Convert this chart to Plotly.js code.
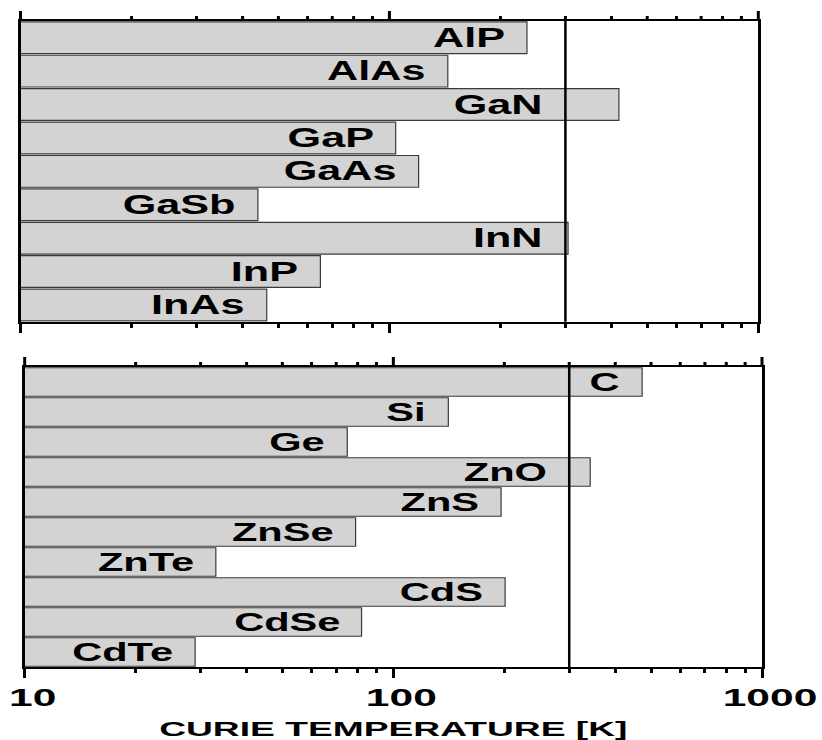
<!DOCTYPE html>
<html>
<head>
<meta charset="utf-8">
<script src="https://cdn.plot.ly/plotly-3.0.1.min.js"></script>
<style>
  html, body { margin: 0; padding: 0; background: #fff; }
  #chart { width: 822px; height: 740px; }
</style>
</head>
<body>
<div id="chart"></div>
<script>
// Predicted Curie temperatures (K) of Mn-doped semiconductor hosts
const compoundHosts = ['AlP', 'AlAs', 'GaN', 'GaP', 'GaAs', 'GaSb', 'InN', 'InP', 'InAs'];
const compoundTc = [236, 144, 419, 104, 120, 44, 305, 65, 46.5];

const elementAndIIVIHosts = ['C', 'Si', 'Ge', 'ZnO', 'ZnS', 'ZnSe', 'ZnTe', 'CdS', 'CdSe', 'CdTe'];
const elementAndIIVITc = [473, 141, 75, 342, 196, 79, 33, 201, 82, 29];

const roomTemperature = 300;
const majorTickValues = [10, 100, 1000];
const majorTickLabels = ['10', '100', '1000'];
const minorTickValues = [20, 30, 40, 50, 60, 70, 80, 90, 200, 300, 400, 500, 600, 700, 800, 900];
const axisTitleText = 'CURIE TEMPERATURE [K]';

const LOG_RANGE = [1, 3];
const FONT = 'Liberation Sans, Arial, Helvetica, sans-serif';
const BAR_FILL = '#d3d3d3';
const BAR_EDGE = '#3a3a3a';
const MAJOR_LEN = 9;
const MINOR_LEN = 4;

const FIG_W = 822, FIG_H = 740;
const MARGIN = { l: 20, r: 60, t: 21, b: 73 };
const TOP_PANEL = [0.5345, 1];
const BOTTOM_PANEL = [0, 0.4644];
const PLOT_H = FIG_H - MARGIN.t - MARGIN.b;

// position of a temperature along a panel's log axis, as a fraction of its width
function logFraction(v) {
  return (Math.log10(v) - LOG_RANGE[0]) / (LOG_RANGE[1] - LOG_RANGE[0]);
}

function barTrace(hosts, tc, xa, ya) {
  return {
    type: 'bar',
    orientation: 'h',
    y: hosts,
    x: tc,
    xaxis: xa,
    yaxis: ya,
    marker: { color: BAR_FILL, line: { color: BAR_EDGE, width: 1.2 } },
    hoverinfo: 'skip'
  };
}

// Name labels sit just inside the bar end; bars that only slightly pass
// room temperature get their label tucked left of the 300 K line.
function nameLabels(hosts, tc, xa, ya, size) {
  return hosts.map((name, i) => {
    const v = tc[i];
    const room = Math.log10(v / roomTemperature);
    let anchor = v;
    if (v > roomTemperature && room < 0.09 * name.length) anchor = roomTemperature;
    return {
      xref: xa, yref: ya,
      x: Math.log10(anchor), y: name,
      xanchor: 'right', yanchor: 'middle',
      xshift: -20, yshift: 0,
      text: name, showarrow: false,
      font: { family: FONT, size: size, color: '#000', weight: 700 }
    };
  });
}

function logAxis(domain, anchor, labels) {
  const ax = {
    type: 'log', range: LOG_RANGE, domain: domain, anchor: anchor,
    showline: true, linewidth: 2, linecolor: '#000', mirror: true,
    ticks: 'outside', tickmode: 'array', tickvals: majorTickValues, ticktext: majorTickLabels,
    ticklen: MAJOR_LEN, tickwidth: 3, tickcolor: '#000',
    showgrid: false, zeroline: false, showticklabels: labels,
    minor: { tickmode: 'array', tickvals: minorTickValues, ticks: 'outside', ticklen: MINOR_LEN, tickwidth: 3, tickcolor: '#000', showgrid: false }
  };
  if (labels) {
    ax.tickfont = { family: FONT, size: 23, color: '#000', weight: 700 };
    ax.ticklabelshift = 8;
    ax.ticklabelstandoff = 0;
    ax.title = { text: axisTitleText, font: { family: FONT, size: 20, color: '#000', weight: 700 }, standoff: 13 };
  }
  return ax;
}

function catAxis(domain, anchor, n) {
  return {
    type: 'category', domain: domain, anchor: anchor, range: [n - 0.5, -0.5],
    showline: true, linewidth: 3, linecolor: '#000', mirror: true,
    ticks: '', showticklabels: false, showgrid: false, zeroline: false
  };
}

function roomLine(xa, ya) {
  const f = logFraction(roomTemperature);
  return { type: 'line', xref: xa + ' domain', yref: ya + ' domain', x0: f, x1: f, y0: 0, y1: 1,
           line: { color: '#000', width: 2.5 }, layer: 'above' };
}

// Upward tick marks along the top edge of a panel, on the paper's vertical scale.
function topTicks(xa, panel) {
  const px = 1 / PLOT_H;   // one pixel in paper-height units
  const top = panel[1];
  const mark = (v, len) => {
    const f = logFraction(v);
    return { type: 'line', xref: xa + ' domain', yref: 'paper',
             x0: f, x1: f, y0: top + px, y1: top + (1 + len) * px,
             line: { color: '#000', width: 3 }, layer: 'above' };
  };
  return majorTickValues.map(v => mark(v, MAJOR_LEN))
    .concat(minorTickValues.map(v => mark(v, MINOR_LEN)));
}

const data = [
  barTrace(compoundHosts, compoundTc, 'x', 'y'),
  barTrace(elementAndIIVIHosts, elementAndIIVITc, 'x2', 'y2')
];

const layout = {
  width: FIG_W, height: FIG_H,
  margin: MARGIN,
  paper_bgcolor: '#fff', plot_bgcolor: '#fff',
  showlegend: false,
  bargap: 0.05,
  xaxis: logAxis([0.0007, 0.995], 'y', false),
  yaxis: catAxis(TOP_PANEL, 'x', compoundHosts.length),
  xaxis2: logAxis([0.0063, 1], 'y2', true),
  yaxis2: catAxis(BOTTOM_PANEL, 'x2', elementAndIIVIHosts.length),
  shapes: [roomLine('x', 'y'), roomLine('x2', 'y2')]
    .concat(topTicks('x', TOP_PANEL), topTicks('x2', BOTTOM_PANEL)),
  annotations: nameLabels(compoundHosts, compoundTc, 'x', 'y', 27)
    .concat(nameLabels(elementAndIIVIHosts, elementAndIIVITc, 'x2', 'y2', 26))
};

// Widen the lettering horizontally (wide bold face) while keeping each
// label pinned at its anchor edge.
function widen(nodes, factor, pin) {
  nodes.forEach(t => {
    const bb = t.getBBox();
    const cx = pin === 'right' ? bb.x + bb.width : bb.x + bb.width / 2;
    const base = t.getAttribute('transform') || '';
    t.setAttribute('transform', base + ' translate(' + cx + ',0) scale(' + factor + ',1) translate(' + (-cx) + ',0)');
  });
}

Plotly.newPlot('chart', data, layout, { displayModeBar: false }).then(gd => {
  widen(gd.querySelectorAll('.annotation-text'), 1.6, 'right');
  widen(gd.querySelectorAll('.x2tick text'), 1.85, 'center');
  widen(gd.querySelectorAll('.g-x2title text'), 1.86, 'center');
});
</script>
</body>
</html>
